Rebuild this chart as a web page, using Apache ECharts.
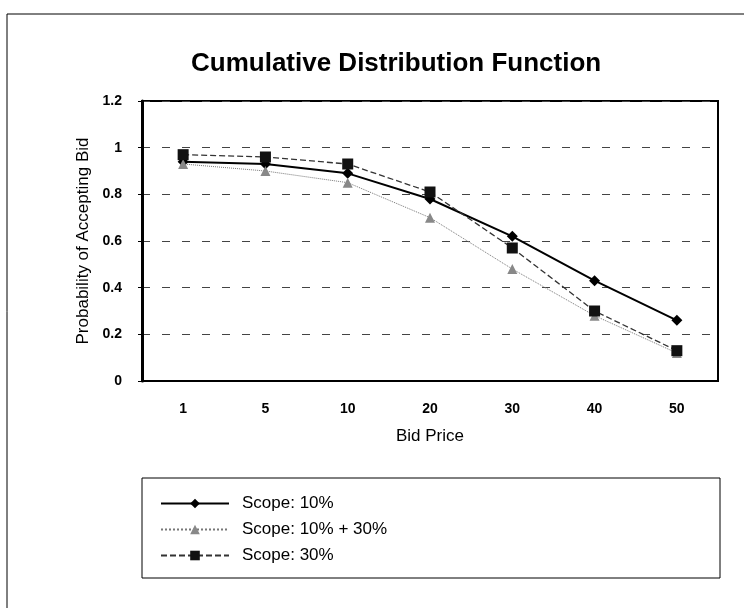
<!DOCTYPE html>
<html>
<head>
<meta charset="utf-8">
<script src="https://cdn.jsdelivr.net/npm/echarts@6/dist/echarts.min.js"></script>
<style>
html,body{margin:0;padding:0;background:#fff;}
#chart{width:744px;height:608px;}
</style>
</head>
<body>
<div id="chart"></div>
<script>
var categories = ['1', '5', '10', '20', '30', '40', '50'];
var scope10 = [0.94, 0.93, 0.89, 0.78, 0.62, 0.43, 0.26];
var scope10plus30 = [0.93, 0.90, 0.85, 0.70, 0.48, 0.28, 0.12];
var scope30 = [0.97, 0.96, 0.93, 0.81, 0.57, 0.30, 0.13];
var seriesNames = ['Scope: 10%', 'Scope: 10% + 30%', 'Scope: 30%'];

var FONT = '"Liberation Sans", Arial, sans-serif';
var chart = echarts.init(document.getElementById('chart'), null, {renderer: 'canvas'});
chart.setOption({
  backgroundColor: '#fff',
  animation: false,
  title: {
    text: 'Cumulative Distribution Function',
    left: 186, top: 46,
    textStyle: {fontFamily: FONT, fontSize: 26, fontWeight: 'bold', color: '#000'}
  },
  graphic: [
    {type: 'rect', shape: {x: 7, y: 14, width: 800, height: 700}, style: {fill: 'none', stroke: '#000', lineWidth: 1}, silent: true},
    {type: 'rect', shape: {x: 142, y: 478, width: 578, height: 100}, style: {fill: 'none', stroke: '#000', lineWidth: 1}, silent: true}
  ],
  legend: {
    orient: 'vertical',
    left: 155, top: 490,
    itemWidth: 68, itemHeight: 12, itemGap: 9,
    data: seriesNames,
    textStyle: {fontFamily: FONT, fontSize: 17, color: '#000', padding: [0, 0, 0, 8]}
  },
  grid: {
    left: 142, right: 26, top: 101, bottom: 227,
    show: true, borderColor: '#000', borderWidth: 2, backgroundColor: '#fff'
  },
  xAxis: {
    type: 'category',
    data: categories,
    boundaryGap: true,
    name: 'Bid Price',
    nameLocation: 'middle',
    nameGap: 47,
    nameTextStyle: {fontFamily: FONT, fontSize: 17, color: '#000'},
    axisLine: {lineStyle: {color: '#000', width: 2}},
    axisTick: {show: false},
    axisLabel: {fontFamily: FONT, fontSize: 14, fontWeight: 'bold', color: '#000', margin: 21}
  },
  yAxis: {
    type: 'value',
    min: 0, max: 1.2, interval: 0.2,
    name: 'Probability of Accepting Bid',
    nameLocation: 'middle',
    nameGap: 37,
    nameTextStyle: {fontFamily: FONT, fontSize: 17, color: '#000'},
    axisLine: {show: true, lineStyle: {color: '#000', width: 3}},
    axisTick: {show: true, inside: false, length: 4, lineStyle: {color: '#000'}},
    axisLabel: {fontFamily: FONT, fontSize: 14, fontWeight: 'bold', color: '#000', margin: 20,
      formatter: function (v) { return String(Math.round(v * 10) / 10); }},
    splitLine: {show: true, lineStyle: {color: '#444', width: 1, type: [8, 12]}}
  },
  series: [
    {
      name: seriesNames[0], type: 'line', data: scope10,
      symbol: 'diamond', symbolSize: 11,
      itemStyle: {color: '#000'},
      lineStyle: {color: '#000', width: 2}
    },
    {
      name: seriesNames[1], type: 'line', data: scope10plus30,
      symbol: 'triangle', symbolSize: 10,
      itemStyle: {color: '#888'},
      lineStyle: {color: '#777', width: 1, type: 'dotted'}
    },
    {
      name: seriesNames[2], type: 'line', data: scope30,
      symbol: 'rect', symbolSize: 11,
      itemStyle: {color: '#111'},
      lineStyle: {color: '#333', width: 1.3, type: [6, 3]}
    }
  ]
});
</script>
</body>
</html>
